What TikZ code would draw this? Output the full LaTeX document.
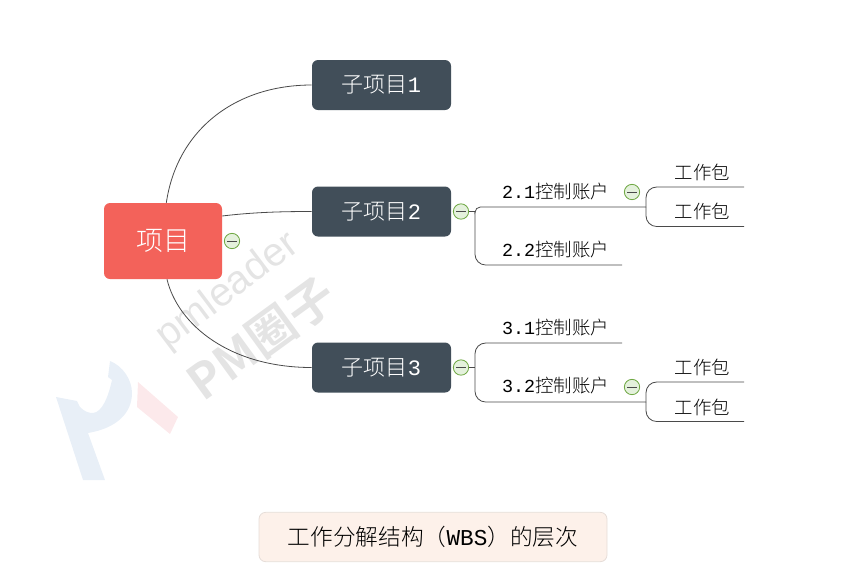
\documentclass[tikz,border=0pt]{standalone}
\usepackage{fontspec}
\setmainfont{Liberation Mono}
\newfontfamily\cjk{Noto Sans CJK SC Light}
\newfontfamily\cjkb{Noto Sans CJK SC}[BoldFont=* Bold]
\newfontfamily\wm{Liberation Sans}
\usetikzlibrary{calc}
\definecolor{dark}{HTML}{414E59}
\definecolor{red1}{HTML}{F3625A}
\definecolor{capfill}{HTML}{FDF1EA}
\definecolor{capline}{HTML}{E6DDD8}
\definecolor{ln}{HTML}{4A4A4A}
\definecolor{wmgray}{HTML}{E4E4E4}
\definecolor{wmblue}{HTML}{E8EFF7}
\definecolor{wmred}{HTML}{FCE9EB}
\definecolor{tgline}{HTML}{6FA843}
\definecolor{tgfill}{HTML}{E4F1DC}
\tikzset{
  x=0.75pt,y=-0.75pt,
  rootbox/.style={rounded corners=4.5pt,fill=red1,text=white,minimum width=88.5pt,minimum height=57pt,inner sep=0pt,font=\cjk\fontsize{20.2}{22}\selectfont},
  subbox/.style={rounded corners=4.5pt,fill=dark,text=white,minimum width=104.25pt,minimum height=37.5pt,inner sep=0pt,font=\fontsize{16.5}{18}\selectfont},
  capbox/.style={rounded corners=5pt,fill=capfill,draw=capline,line width=.6pt,minimum width=261pt,minimum height=37pt,inner sep=0pt,font=\fontsize{17}{20}\selectfont},
  lbl/.style={inner sep=0pt,text=black,font=\fontsize{13.8}{16}\selectfont},
  link/.style={draw=ln,line width=.6pt},
}
\newcommand{\toggle}[2]{%
  \node[circle,draw=tgline,fill=tgfill,line width=.6pt,minimum size=11.5pt,inner sep=0pt] (#1) at (#2) {};
  \draw[ln,line width=.6pt] ($(#1.center)+(-5,0)$) -- ($(#1.center)+(5,0)$);
}
\newcommand{\zh}[1]{{\cjk #1}}
\begin{document}
\begin{tikzpicture}
\useasboundingbox (0,0) rectangle (866,572);
% watermark
\fill[wmblue] (56,397) -- (77,401) -- (80,407) .. controls (85,412) and (89,413) .. (93,413) .. controls (102,412) and (108,398) .. (112,380) -- (108,377) -- (110,361) .. controls (123,366) and (132,380) .. (132,393) .. controls (132,412) and (118,428) .. (88,433) -- (105,480) -- (83,480) -- cycle;
\fill[wmred] (138,382) -- (178,417) -- (170,434) -- (137,407) -- cycle;
\node[rotate=37,text=wmgray,inner sep=0pt,font=\wm\fontsize{30}{32}\selectfont] (wm1) at (228,291) {pmleader};
\node[rotate=36,text=wmgray,inner sep=0pt,font=\cjkb\bfseries\fontsize{36}{38}\selectfont] (wm2) at (262,339) {PM圈子};
% nodes
\node[rootbox] (root) at (163,241) {项目};
\node[subbox] (s1) at (381.5,85) {\zh{子项目}1};
\node[subbox] (s2) at (381.5,211.5) {\zh{子项目}2};
\node[subbox] (s3) at (381.5,367.5) {\zh{子项目}3};
\node[capbox] (cap) at (433,537) {\zh{工作分解结构（}WBS\zh{）的层次}};
\toggle{t0}{232,241}
\toggle{t2}{461,211.5}
\toggle{t3}{461,367.5}
\toggle{t21}{632,192}
\toggle{t32}{632,387}
\node[lbl] (a21) at (555.5,192) {2.1\zh{控制账户}};
\node[lbl] (a22) at (555.5,250) {2.2\zh{控制账户}};
\node[lbl] (a31) at (555.5,328) {3.1\zh{控制账户}};
\node[lbl] (a32) at (555.5,386) {3.2\zh{控制账户}};
\node[lbl] (w1) at (702.5,172) {\zh{工作包}};
\node[lbl] (w2) at (702.5,211) {\zh{工作包}};
\node[lbl] (w3) at (702.5,367) {\zh{工作包}};
\node[lbl] (w4) at (702.5,407) {\zh{工作包}};
\coordinate (j2) at (475,211.5);
\coordinate (j3) at (475,367.5);
\coordinate (e21) at (646,207);
\coordinate (e22) at (622,265);
\coordinate (e31) at (622,343);
\coordinate (e32) at (646,402);
\coordinate (ew1) at (744,187);
\coordinate (ew2) at (744,226.5);
\coordinate (ew3) at (744,382);
\coordinate (ew4) at (744,421.5);
% root links
\draw[link] ([xshift=2.5pt]root.north) .. controls (177,130) and (235,85) .. (s1.west);
\draw[link] (root.east |- 0,216) .. controls (255,212) and (285,211.5) .. (s2.west);
\draw[link] ([xshift=3pt]root.south) .. controls (178,325) and (230,367.5) .. (s3.west);
% branches
\draw[link] (t2.east) -- (j2);
\draw[link,rounded corners=4pt] (j2) |- (e21);
\draw[link,rounded corners=8pt] (j2) |- (e22);
\draw[link] (t3.east) -- (j3);
\draw[link,rounded corners=8pt] (j3) |- (e31);
\draw[link,rounded corners=8pt] (j3) |- (e32);
\draw[link,rounded corners=8pt] (e21) |- (ew1);
\draw[link,rounded corners=8pt] (e21) |- (ew2);
\draw[link,rounded corners=8pt] (e32) |- (ew3);
\draw[link,rounded corners=8pt] (e32) |- (ew4);
\end{tikzpicture}
\end{document}
